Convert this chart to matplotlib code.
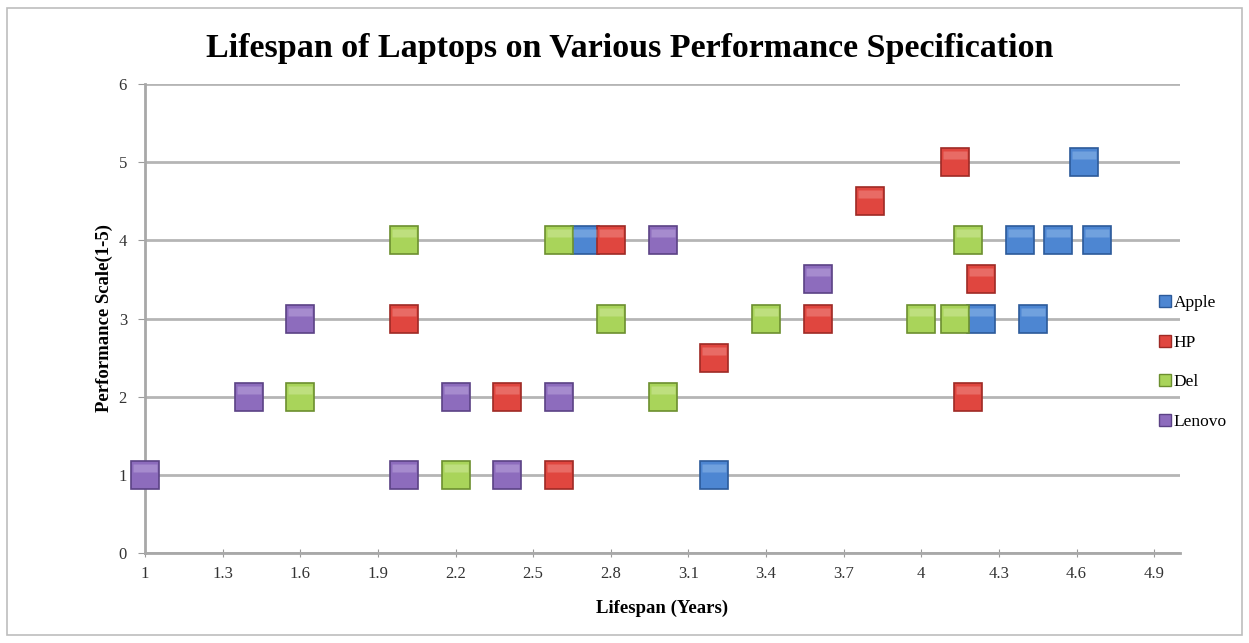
import matplotlib.pyplot as plt
from matplotlib.lines import Line2D
from matplotlib.patches import Rectangle

# Data
apple_x = [2.7, 3.2, 4.23, 4.43, 4.38, 4.53, 4.68, 4.63]
apple_y = [4, 1, 3, 3, 4, 4, 4, 5]

hp_x = [2.0, 2.4, 2.6, 2.8, 3.2, 3.6, 3.8, 4.13, 4.23, 4.18]
hp_y = [3, 2, 1, 4, 2.5, 3, 4.5, 5, 3.5, 2]

del_x = [1.6, 2.0, 2.2, 2.6, 2.8, 3.0, 3.4, 4.0, 4.13, 4.18]
del_y = [2, 4, 1, 4, 3, 2, 3, 3, 3, 4]

lenovo_x = [1.0, 1.4, 1.6, 2.0, 2.2, 2.4, 2.6, 3.0, 3.6]
lenovo_y = [1, 2, 3, 1, 2, 1, 2, 4, 3.5]

x_ticks = [1, 1.3, 1.6, 1.9, 2.2, 2.5, 2.8, 3.1, 3.4, 3.7, 4, 4.3, 4.6, 4.9]
x_labels = ["1", "1.3", "1.6", "1.9", "2.2", "2.5", "2.8", "3.1", "3.4", "3.7", "4", "4.3", "4.6", "4.9"]
y_ticks = [0, 1, 2, 3, 4, 5, 6]

series = [
    ("Apple", apple_x, apple_y, "#4d86d2", "#2c5a9a", "#b4d4f6"),
    ("HP", hp_x, hp_y, "#e0463f", "#9e2a25", "#f7b3ae"),
    ("Del", del_x, del_y, "#a9d45a", "#6c8f2f", "#e6f6c4"),
    ("Lenovo", lenovo_x, lenovo_y, "#8d6cbd", "#5b4285", "#d6c6ee"),
]

serif = "Liberation Serif"

# flat band used as a glossy highlight on the upper part of each square
band = [(-1, 0.25), (1, 0.25), (1, 0.95), (-1, 0.95)]

fig = plt.figure(figsize=(12.49, 6.43), dpi=100)
fig.patches.append(Rectangle((0.006, 0.012), 0.988, 0.976, transform=fig.transFigure,
                             fill=False, edgecolor="#bdbdbd", linewidth=1.2))

ax = fig.add_axes([145 / 1249, 1 - 553 / 643, (1180 - 145) / 1249, (553 - 84) / 643])
ax.set_xlim(1, 5)
ax.set_ylim(0, 6)

ax.grid(axis="y", color="#b5b5b5", linewidth=2)
ax.set_axisbelow(True)

for name, xs, ys, face, edge, light in series:
    ax.plot(xs, ys, linestyle="none", marker="s", markersize=20,
            markerfacecolor=face, markeredgecolor=edge, markeredgewidth=1.2,
            zorder=3, clip_on=False)
    ax.plot(xs, ys, linestyle="none", marker=band, markersize=17,
            markerfacecolor=light, markeredgecolor="none", alpha=0.35,
            zorder=4, clip_on=False)

ax.set_xticks(x_ticks)
ax.set_xticklabels(x_labels, fontfamily=serif, fontsize=12, color="#333333")
ax.set_yticks(y_ticks)
ax.set_yticklabels([str(v) for v in y_ticks], fontfamily=serif, fontsize=12, color="#333333")
ax.tick_params(axis="x", direction="inout", length=6, color="#9a9a9a", pad=6)
ax.tick_params(axis="y", direction="out", length=5, color="#9a9a9a", pad=8)

for side in ["top", "right"]:
    ax.spines[side].set_visible(False)
for side in ["left", "bottom"]:
    ax.spines[side].set_color("#a8a8a8")
    ax.spines[side].set_linewidth(2)

ax.set_xlabel("Lifespan (Years)", fontfamily=serif, fontweight="bold", fontsize=13.5, labelpad=13)
ax.set_ylabel("Performance Scale(1-5)", fontfamily=serif, fontweight="bold", fontsize=13.5, labelpad=4)

fig.text(630 / 1249, 1 - 48 / 643, "Lifespan of Laptops on Various Performance Specification",
         ha="center", va="center", fontfamily=serif, fontweight="bold", fontsize=24.5)

handles = [Line2D([0], [0], linestyle="none", marker="s", markersize=9,
                  markerfacecolor=face, markeredgecolor=edge, markeredgewidth=1)
           for name, xs, ys, face, edge, light in series]
labels = [s[0] for s in series]
fig.legend(handles, labels, loc="upper left", bbox_to_anchor=(1150 / 1249, 1 - 288 / 643),
           frameon=False, prop={"family": serif, "size": 12.5}, handletextpad=0.05,
           handlelength=0.9, labelspacing=1.35, borderaxespad=0)

fig.savefig("out.png", dpi=100)
